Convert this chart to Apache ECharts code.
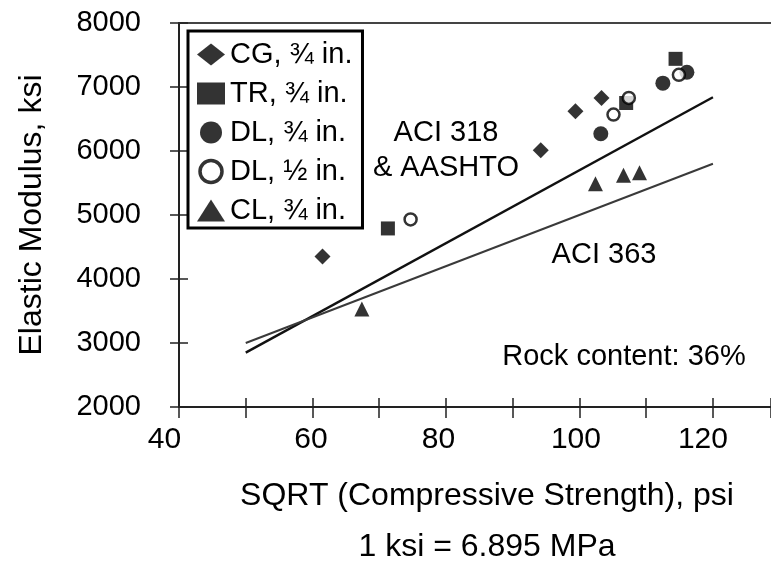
<!DOCTYPE html>
<html>
<head>
<meta charset="utf-8">
<script src="https://cdn.jsdelivr.net/npm/echarts@6/dist/echarts.min.js"></script>
<style>html,body{margin:0;padding:0;background:#fff}#c{width:771px;height:569px}</style>
</head>
<body>
<div id="c"></div>
<script>
// ---- data ----
const xTickLabels = [40, 60, 80, 100, 120];
const yTickLabels = [2000, 3000, 4000, 5000, 6000, 7000, 8000];
const seriesNames = ['CG, ¾ in.', 'TR, ¾ in.', 'DL, ¾ in.', 'DL, ½ in.', 'CL, ¾ in.'];
const cgData   = [[61.5, 4350], [94.2, 6010], [99.4, 6620], [103.3, 6830]];
const trData   = [[71.3, 4790], [107.0, 6750], [114.4, 7440]];
const dl34Data = [[103.2, 6270], [112.5, 7060], [116.1, 7230]];
const dl12Data = [[74.7, 4930], [105.1, 6570], [107.4, 6830], [114.9, 7190]];
const clData   = [[67.4, 3530], [102.4, 5490], [106.6, 5620], [109.0, 5660]];
const aci318   = [[50, 2850], [120, 6840]];
const aci363   = [[50, 3000], [120, 5800]];

// ---- styling ----
const FONT = '"Liberation Sans", Arial, sans-serif';
const AX = '#222';
const X_MIN = 40, X_MAX = 128.7, Y_MIN = 2000, Y_MAX = 8000;
const labelShift = {40: 29, 60: 3, 80: 15, 100: 7, 120: 20}; // right padding to nudge labels left

const rich = {};
xTickLabels.forEach((v, i) => {
  rich['a' + i] = {fontSize: 30, fontFamily: FONT, color: '#000', padding: [0, labelShift[v], 0, 0]};
});

const chart = echarts.init(document.getElementById('c'), null, {renderer: 'canvas'});

const baseX = {type: 'value', min: X_MIN, max: X_MAX, interval: 10, splitLine: {show: false}};
const baseY = {type: 'value', min: Y_MIN, max: Y_MAX, interval: 1000, splitLine: {show: false}};

const option = {
  animation: false,
  backgroundColor: '#fff',
  grid: {left: 179, right: 0, top: 23, bottom: 162, containLabel: false, outerBoundsMode: 'none'},
  xAxis: [
    Object.assign({}, baseX, {
      position: 'bottom',
      axisLine: {show: true, lineStyle: {color: AX, width: 2}},
      axisTick: {show: true, length: 11, lineStyle: {color: AX, width: 1.5}},
      axisLabel: {
        margin: 18, color: '#000', fontSize: 30, fontFamily: FONT,
        formatter: function (v) {
          const i = xTickLabels.indexOf(v);
          return i < 0 ? '' : '{a' + i + '|' + v + '}';
        },
        rich: rich
      },
      name: 'SQRT (Compressive Strength), psi\n1 ksi = 6.895 MPa',
      nameLocation: 'middle',
      nameGap: 64,
      nameTextStyle: {color: '#000', fontSize: 32, fontFamily: FONT, lineHeight: 51, padding: [0, 0, 0, 24]}
    }),
    Object.assign({}, baseX, {
      position: 'bottom',
      axisLine: {show: false},
      axisTick: {show: true, inside: true, length: 9, lineStyle: {color: AX, width: 1.5}},
      axisLabel: {show: false}
    }),
    Object.assign({}, baseX, {
      position: 'top',
      axisLine: {show: true, lineStyle: {color: '#444', width: 2}},
      axisTick: {show: false},
      axisLabel: {show: false}
    })
  ],
  yAxis: [
    Object.assign({}, baseY, {
      position: 'left',
      axisLine: {show: true, lineStyle: {color: AX, width: 2}},
      axisTick: {show: true, length: 9, lineStyle: {color: AX, width: 1.5}},
      axisLabel: {
        margin: 38, color: '#000', fontSize: 29, fontFamily: FONT,
        formatter: function (v) { return yTickLabels.indexOf(v) >= 0 ? String(v) : ''; }
      },
      name: 'Elastic Modulus, ksi',
      nameLocation: 'middle',
      nameGap: 131,
      nameTextStyle: {color: '#000', fontSize: 32, fontFamily: FONT}
    }),
    Object.assign({}, baseY, {
      position: 'left',
      axisLine: {show: false},
      axisTick: {show: true, inside: true, length: 9, lineStyle: {color: AX, width: 1.5}},
      axisLabel: {show: false}
    })
  ],
  legend: {
    orient: 'vertical',
    left: 188, top: 31,
    padding: [9, 10, 3, 9],
    itemGap: 10,
    itemWidth: 28, itemHeight: 22,
    backgroundColor: '#fff',
    borderColor: '#000', borderWidth: 3,
    selectedMode: false,
    textStyle: {color: '#000', fontSize: 29, fontFamily: FONT, lineHeight: 29},
    data: [
      {name: seriesNames[0], icon: 'diamond', itemStyle: {color: '#000'}},
      {name: seriesNames[1], icon: 'rect', itemStyle: {color: '#000'}},
      {name: seriesNames[2], icon: 'circle', itemStyle: {color: '#000'}},
      {name: seriesNames[3], icon: 'circle', itemStyle: {color: '#fff', borderColor: '#000', borderWidth: 3.5}},
      {name: seriesNames[4], icon: 'triangle', itemStyle: {color: '#000'}}
    ]
  },
  graphic: [
    {type: 'text', x: 446, y: 150, style: {text: 'ACI 318\n& AASHTO', fill: '#000', font: '29px ' + FONT,
      align: 'center', verticalAlign: 'middle', textAlign: 'center', textVerticalAlign: 'middle', lineHeight: 35}},
    {type: 'text', x: 604, y: 255, style: {text: 'ACI 363', fill: '#000', font: '29px ' + FONT,
      align: 'center', verticalAlign: 'middle', textAlign: 'center', textVerticalAlign: 'middle'}},
    {type: 'text', x: 624, y: 357, style: {text: 'Rock content: 36%', fill: '#000', font: '29px ' + FONT,
      align: 'center', verticalAlign: 'middle', textAlign: 'center', textVerticalAlign: 'middle'}}
  ],
  series: [
    {type: 'line', name: 'ACI 318', data: aci318, showSymbol: false, symbol: 'none',
      lineStyle: {color: '#111', width: 2.4}, z: 2, silent: true},
    {type: 'line', name: 'ACI 363', data: aci363, showSymbol: false, symbol: 'none',
      lineStyle: {color: '#3a3a3a', width: 2}, z: 2, silent: true},
    {type: 'scatter', name: seriesNames[0], data: cgData, symbol: 'diamond', symbolSize: 16,
      itemStyle: {color: '#000'}, z: 3},
    {type: 'scatter', name: seriesNames[1], data: trData, symbol: 'rect', symbolSize: 14,
      itemStyle: {color: '#000'}, z: 3},
    {type: 'scatter', name: seriesNames[2], data: dl34Data, symbol: 'circle', symbolSize: 15,
      itemStyle: {color: '#000'}, z: 3},
    {type: 'scatter', name: seriesNames[3], data: dl12Data, symbol: 'circle', symbolSize: 12,
      itemStyle: {color: '#fff', borderColor: '#000', borderWidth: 2.5}, z: 4},
    {type: 'scatter', name: seriesNames[4], data: clData, symbol: 'triangle', symbolSize: 15,
      itemStyle: {color: '#000'}, z: 3}
  ]
};
chart.setOption(option);
</script>
</body>
</html>
